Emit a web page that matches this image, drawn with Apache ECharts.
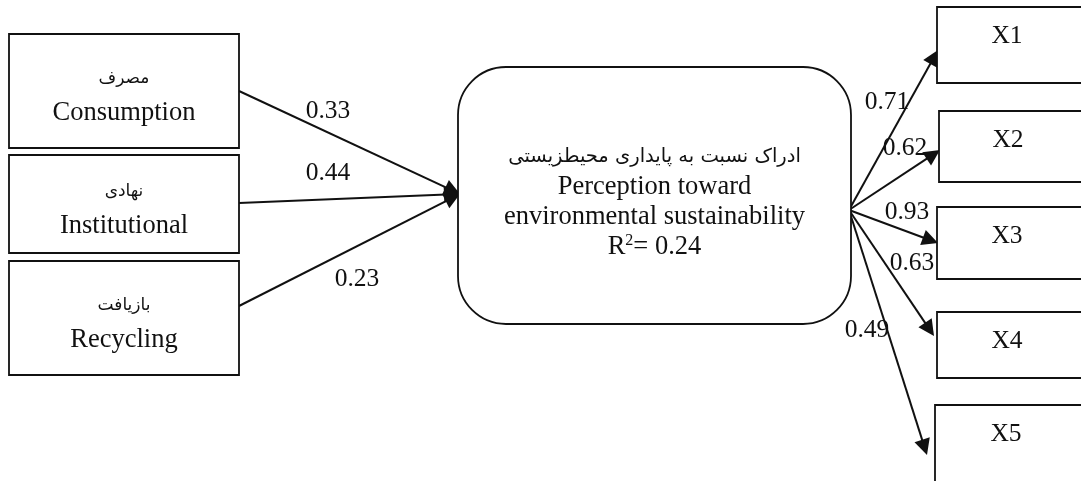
<!DOCTYPE html>
<html><head><meta charset="utf-8">
<script src="https://cdn.jsdelivr.net/npm/echarts@6/dist/echarts.min.js"></script>
<style>html,body{margin:0;padding:0;background:#fff}#c{width:1081px;height:481px}</style>
</head><body><div id="c"></div>
<script>
// ---- data ----
const sourceNamesFa = ['مصرف', 'نهادی', 'بازیافت'];
const sourceNamesEn = ['Consumption', 'Institutional', 'Recycling'];
const pathCoefs = [0.33, 0.44, 0.23];
const targetNameFa = 'ادراک نسبت به پایداری محیطزیستی';
const targetNameEn = ['Perception toward', 'environmental sustainability'];
const rSquared = 0.24;
const indicators = ['X1', 'X2', 'X3', 'X4', 'X5'];
const loadings = [0.71, 0.62, 0.93, 0.63, 0.49];

// ---- layout (diagram positions in a 1081x481 frame) ----
const sourceBoxes = [[9, 34, 239, 148], [9, 155, 239, 253], [9, 261, 239, 375]];
const sourceAnchors = [[239, 91], [239, 203], [239, 306]];
const targetBox = [458, 67, 851, 324];
const targetIn = [460, 194];
const targetOut = [849, 210];
const indicatorBoxes = [[937, 7, 1095, 83], [939, 111, 1095, 182], [937, 207, 1095, 279], [937, 312, 1095, 378], [935, 405, 1095, 500]];
const indicatorTips = [[938, 50], [940, 150], [938, 243], [934, 336], [927, 455]];
const coefLabelPos = [[328, 111], [328, 173], [357, 279]];
const loadingLabelPos = [[887, 102], [905, 148], [907, 212], [912, 263], [867, 330]];

const SERIF = '"Liberation Serif", "Times New Roman", "DejaVu Serif", serif';
const ARAB = '"DejaVu Sans", "Noto Sans", sans-serif';
const ARROW = 16;

function shorten(a, b, d) {
  const dx = b[0] - a[0], dy = b[1] - a[1];
  const L = Math.sqrt(dx * dx + dy * dy);
  return [b[0] - dx / L * d, b[1] - dy / L * d];
}

function boxSeries(name, boxes, radius, textFn) {
  return {
    type: 'custom', name: name, coordinateSystem: 'cartesian2d', clip: false, z: 3,
    data: boxes,
    renderItem: function (params, api) {
      const p1 = api.coord([api.value(0), api.value(1)]);
      const p2 = api.coord([api.value(2), api.value(3)]);
      const t = textFn(params.dataIndex, p1, p2);
      return {
        type: 'group',
        children: [
          { type: 'rect', shape: { x: p1[0], y: p1[1], width: p2[0] - p1[0], height: p2[1] - p1[1], r: radius },
            style: { fill: '#fff', stroke: '#111', lineWidth: 1.8 } },
          { type: 'text', style: t }
        ]
      };
    }
  };
}

const enRich = { fontFamily: SERIF, fontSize: 26.5, lineHeight: 35, fill: '#111' };
const faRich = { fontFamily: ARAB, fontSize: 17, lineHeight: 35, fill: '#111' };

const option = {
  animation: false,
  backgroundColor: '#fff',
  grid: { left: 0, right: 0, top: 0, bottom: 0 },
  xAxis: { type: 'value', min: 0, max: 1081, show: false },
  yAxis: { type: 'value', min: 0, max: 481, inverse: true, show: false },
  series: [
    boxSeries('sources', sourceBoxes, 0, function (i, p1, p2) {
      return {
        text: '{fa|' + sourceNamesFa[i] + '}\n{en|' + sourceNamesEn[i] + '}',
        rich: { fa: faRich, en: enRich },
        x: (p1[0] + p2[0]) / 2, y: (p1[1] + p2[1]) / 2 + 5,
        align: 'center', verticalAlign: 'middle'
      };
    }),
    boxSeries('target', [targetBox], 48, function (i, p1, p2) {
      return {
        text: '{fa|' + targetNameFa + '}\n{en|' + targetNameEn[0] + '}\n{en|' + targetNameEn[1] + '}\n{en|R}{sup|2}{en|= ' + rSquared.toFixed(2) + '}',
        rich: {
          fa: { fontFamily: ARAB, fontSize: 19.5, lineHeight: 32, fill: '#111' },
          en: { fontFamily: SERIF, fontSize: 26.5, lineHeight: 30, fill: '#111' },
          sup: { fontFamily: SERIF, fontSize: 16, lineHeight: 30, fill: '#111', verticalAlign: 'top', padding: [0, 0, 8, 0] }
        },
        x: (p1[0] + p2[0]) / 2, y: (p1[1] + p2[1]) / 2 + 6,
        align: 'center', verticalAlign: 'middle'
      };
    }),
    boxSeries('indicators', indicatorBoxes, 0, function (i, p1, p2) {
      return {
        text: indicators[i],
        fontFamily: SERIF, fontSize: 25.5, fill: '#111',
        x: (p1[0] + 1081) / 2 - 2, y: p1[1] + 29,
        align: 'center', verticalAlign: 'middle'
      };
    }),
    {
      type: 'lines', name: 'paths', coordinateSystem: 'cartesian2d', z: 2,
      symbol: ['none', 'triangle'], symbolSize: ARROW,
      lineStyle: { color: '#111', width: 2, opacity: 1 },
      data: sourceAnchors.map(function (a) { return { coords: [a, shorten(a, targetIn, ARROW / 2)] }; })
        .concat(indicatorTips.map(function (t) { return { coords: [targetOut, shorten(targetOut, t, ARROW / 2)] }; }))
    },
    {
      type: 'scatter', name: 'coefs', z: 5, symbolSize: 0,
      itemStyle: { opacity: 1, color: '#111' },
      data: pathCoefs.map(function (v, i) { return [coefLabelPos[i][0], coefLabelPos[i][1], v]; })
        .concat(loadings.map(function (v, i) { return [loadingLabelPos[i][0], loadingLabelPos[i][1], v]; })),
      label: {
        show: true, position: 'inside', color: '#111', fontFamily: SERIF, fontSize: 25.5,
        textBorderWidth: 0, textBorderColor: 'transparent',
        formatter: function (p) { return p.value[2].toFixed(2); }
      }
    }
  ]
};

const chart = echarts.init(document.getElementById('c'), null, { renderer: 'canvas' });
chart.setOption(option);
</script></body></html>
